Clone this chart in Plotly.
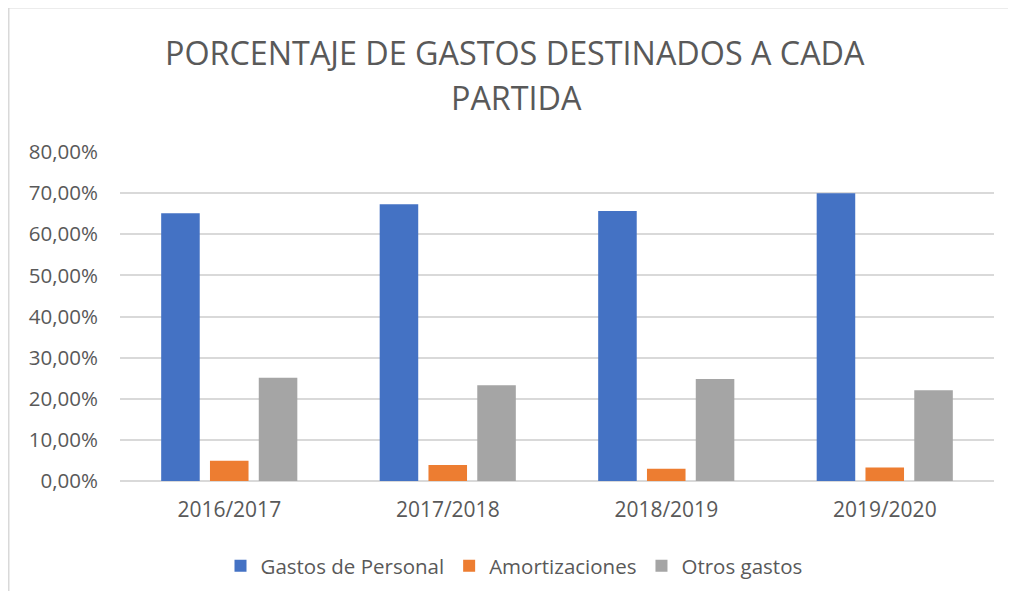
import plotly.graph_objects as go

categories = ["2016/2017", "2017/2018", "2018/2019", "2019/2020"]
gastos_personal = [65.1, 67.3, 65.65, 70.0]
amortizaciones = [4.9, 3.9, 3.0, 3.3]
otros_gastos = [25.1, 23.3, 24.8, 22.05]
y_ticks = [0, 10, 20, 30, 40, 50, 60, 70, 80]
y_tick_labels = ["0,00%", "10,00%", "20,00%", "30,00%", "40,00%",
                 "50,00%", "60,00%", "70,00%", "80,00%"]
title_lines = ["PORCENTAJE DE GASTOS DESTINADOS A CADA", "PARTIDA"]

# page has an 8px body margin: figure sits at (8, 8)
OFF = 8
W, H = 1016 - 2 * OFF, 599 - 2 * OFF
L, T = 120 - OFF, 152 - OFF
R = W - (994 - OFF)
B = H - (481 - OFF)
pw, ph = W - L - R, H - T - B

FONT = "Open Sans"
TXT = "#595959"

def px_x(x):  # page pixel -> paper x
    return (x - OFF - L) / pw

def px_y(y):  # page pixel -> paper y
    return (H - B - (y - OFF)) / ph

fig = go.Figure()
fig.add_bar(name="Gastos de Personal", x=categories, y=gastos_personal,
            marker=dict(color="#4472C4", line=dict(width=0)))
fig.add_bar(name="Amortizaciones", x=categories, y=amortizaciones,
            marker=dict(color="#ED7D31", line=dict(width=0)))
fig.add_bar(name="Otros gastos", x=categories, y=otros_gastos,
            marker=dict(color="#A5A5A5", line=dict(width=0)))

annotations = [
    dict(text=title_lines[0], xref="paper", yref="paper", x=px_x(515), y=px_y(52),
         xanchor="center", yanchor="middle", showarrow=False,
         font=dict(family=FONT, size=32.3, color=TXT)),
    dict(text=title_lines[1], xref="paper", yref="paper", x=px_x(516), y=px_y(97),
         xanchor="center", yanchor="middle", showarrow=False,
         font=dict(family=FONT, size=32.3, color=TXT)),
]

fig.update_layout(
    width=W, height=H,
    margin=dict(l=L, r=R, t=T, b=B, autoexpand=False),
    paper_bgcolor="white", plot_bgcolor="white",
    barmode="group", bargap=0.33, bargroupgap=0.21,
    font=dict(family=FONT, color=TXT),
    annotations=annotations,
    showlegend=True,
    legend=dict(orientation="h", x=px_x(514), xanchor="center",
                y=px_y(566), yanchor="middle",
                font=dict(family=FONT, size=20.5, color=TXT),
                itemwidth=30, traceorder="normal"),
    xaxis=dict(showgrid=False, showline=False, ticks="", ticklabelstandoff=14,
               tickfont=dict(family=FONT, size=21, color=TXT)),
    yaxis=dict(range=[0, 80], tickvals=y_ticks, ticktext=y_tick_labels,
               showgrid=True, gridcolor="#D9D9D9", gridwidth=1.5,
               zeroline=True, zerolinecolor="#D9D9D9", zerolinewidth=1.5,
               showline=False, ticks="", ticklabelstandoff=21,
               tickfont=dict(family=FONT, size=20.5, color=TXT)),
    shapes=[dict(type="rect", xref="paper", yref="paper",
                 x0=px_x(8.75), x1=px_x(1040), y0=px_y(640), y1=px_y(7.75),
                 line=dict(color="#D9D9D9", width=1.5), layer="below")],
)

fig.write_html("out.html")
